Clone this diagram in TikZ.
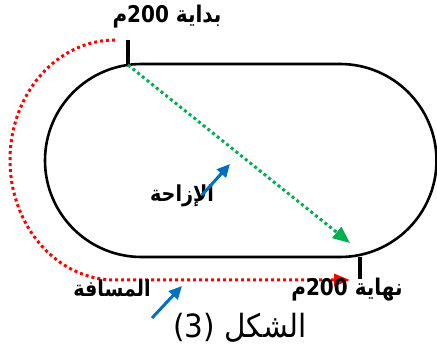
\documentclass[tikz,border=0pt]{standalone}
\usepackage{fontspec}
\setmainfont{Liberation Sans}
\newfontfamily\arabicfont[Script=Arabic]{DejaVu Sans}
\TeXXeTstate=1
\usetikzlibrary{arrows.meta}
\definecolor{rd}{RGB}{255,0,0}
\definecolor{gr}{RGB}{0,176,80}
\definecolor{bl}{RGB}{0,112,192}
\tikzset{
  track/.style={line width=2.6pt},
  marker/.style={line width=4.5pt},
  dotline/.style={line width=3pt, dash pattern=on 3pt off 3pt},
  lbl/.style={font=\arabicfont\bfseries\fontsize{22}{22}\selectfont, inner sep=0pt, xscale=0.87, transform shape},
  bluearrow/.style={bl, line width=3pt, -{Triangle[length=13pt,width=12pt]}},
}
\begin{document}
\begin{tikzpicture}[x=1pt,y=1pt]
\useasboundingbox (0,0) rectangle (437,353);
% track
\draw[track] (141.5,289) -- (340,289) arc[start angle=90,end angle=-90,radius=96.5]
  -- (141.5,96) arc[start angle=-90,end angle=-270,radius=96.5] -- cycle;
% markers
\coordinate (s0) at (128,288);
\coordinate (s1) at (128,313);
\coordinate (e0) at (360,96);
\coordinate (e1) at (360,74);
\draw[marker] (s0) -- (s1);
\draw[marker] (e0) -- (e1);
% distance path
\coordinate (r0) at (115,313);
\coordinate (r1) at (350,73);
\draw[rd, dotline, -{Triangle[length=16pt,width=12pt]}]
  (r0) arc[start angle=90,end angle=270,x radius=105,y radius=120] -- (r1);
% displacement
\coordinate (g1) at (350,110);
\draw[gr, dotline, -{Triangle[length=17pt,width=14pt]}] (s0) -- (g1);
% labels
\node[lbl, font=\arabicfont\bfseries\fontsize{23}{23}\selectfont] (lstart) at (167,336) {\beginR بداية \beginL200\endL{}م\endR};
\node[lbl, font=\arabicfont\bfseries\fontsize{23}{23}\selectfont] (lend) at (347,63) {\beginR نهاية \beginL200\endL{}م\endR};
\node[lbl] (ldisp) at (182,157) {\beginR الإزاحة\endR};
\node[lbl] (ldist) at (112,65) {\beginR المسافة\endR};
\node[inner sep=0pt, font=\arabicfont\fontsize{32}{32}\selectfont, xscale=0.92, transform shape] (title) at (240,25) {\beginR الشكل \beginL(3)\endL\endR};
% blue arrows
\coordinate (b1s) at (202,158);
\coordinate (b1e) at (230,189);
\coordinate (b2s) at (152,35);
\coordinate (b2e) at (182,67);
\draw[bluearrow] (b1s) -- (b1e);
\draw[bluearrow] (b2s) -- (b2e);
\end{tikzpicture}
\end{document}
